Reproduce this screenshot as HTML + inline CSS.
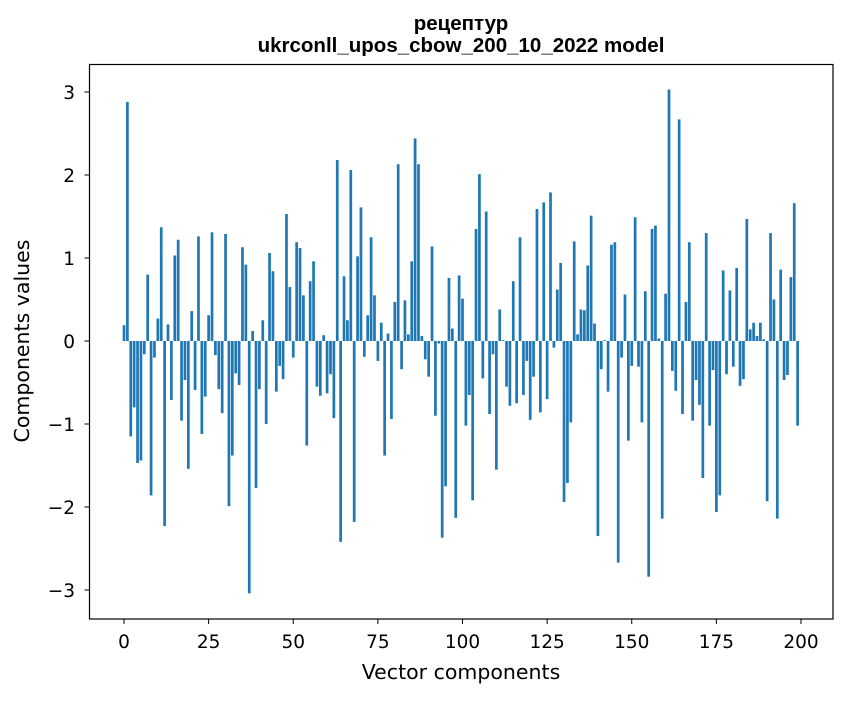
<!DOCTYPE html>
<html><head><meta charset="utf-8"><style>
body{margin:0;background:#fff;}
svg text{font-family:"DejaVu Sans","Liberation Sans",sans-serif;fill:#000;}
</style></head><body>
<svg id="chart" width="847" height="696" xmlns="http://www.w3.org/2000/svg">
<rect width="847" height="696" fill="#fff"/>
<text x="461" y="30" text-anchor="middle" font-size="20.5" font-weight="bold" style="font-family:'Liberation Sans',sans-serif">рецептур</text>
<text x="461" y="52" text-anchor="middle" font-size="20.5" font-weight="bold" style="font-family:'Liberation Sans',sans-serif">ukrconll_upos_cbow_200_10_2022 model</text>
<g id="bars"></g>
<g id="axes"></g>
<text x="461" y="679" text-anchor="middle" font-size="20.5">Vector components</text>
<text transform="translate(29,341) rotate(-90)" text-anchor="middle" font-size="20.5">Components values</text>
</svg>
<script>
const values = [0.19,2.88,-1.15,-0.80,-1.47,-1.44,-0.16,0.80,-1.86,-0.20,
0.27,1.37,-2.23,0.20,-0.71,1.03,1.22,-0.96,-0.47,-1.54,
0.36,-0.59,1.26,-1.12,-0.67,0.31,1.31,-0.17,-0.58,-0.87,
1.29,-1.99,-1.38,-0.39,-0.53,1.13,0.92,-3.04,0.12,-1.77,
-0.58,0.25,-1.00,1.06,0.84,-0.61,-0.30,-0.46,1.53,0.65,
-0.20,1.19,1.12,0.55,-1.26,0.72,0.96,-0.55,-0.66,0.07,
-0.63,-0.40,-0.93,2.18,-2.42,0.78,0.25,2.06,-2.18,1.02,
1.61,-0.19,0.31,1.25,0.55,-0.24,0.22,-1.38,0.09,-0.94,
0.47,2.13,-0.34,0.49,0.08,0.96,2.44,2.13,0.06,-0.22,
-0.43,1.14,-0.90,-0.03,-2.37,-1.75,0.76,0.15,-2.13,0.79,
0.51,-1.02,-0.65,-1.92,1.35,2.01,-0.45,1.56,-0.88,-0.16,
-1.55,0.38,0.01,-0.55,-0.78,0.72,-0.75,1.25,-0.65,-0.24,
-0.95,-0.43,1.59,-0.86,1.67,-0.70,1.79,-0.08,0.62,0.94,
-1.94,-1.71,-0.98,1.20,0.08,0.38,0.37,0.91,1.51,0.21,
-2.35,-0.34,0.01,-0.61,1.16,1.19,-2.67,-0.20,0.56,-1.20,
-0.30,1.49,-0.31,-0.98,0.60,-2.84,1.35,1.39,0.03,-2.14,
0.57,3.03,-0.36,-0.60,2.67,-0.88,0.47,1.19,-0.96,-0.47,
-0.77,-1.65,1.30,-1.02,-0.35,-2.06,-1.86,0.85,-0.40,0.61,
-0.31,0.88,-0.54,-0.46,1.47,0.14,0.22,0.06,0.22,0.02,
-1.93,1.30,0.50,-2.14,0.86,-0.47,-0.41,0.77,1.66,-1.02];
const xTicks = [0,25,50,75,100,125,150,175,200];
const yTicks = [3,2,1,0,-1,-2,-3];
const yTickLabels = ["3","2","1","0","\u22121","\u22122","\u22123"];

const L=89.5,R=833,T=64.5,B=619;
const xScale = v => 124 + v*3.385;
const yScale = v => 341 - v*83;
const NS="http://www.w3.org/2000/svg";
const bars=document.getElementById('bars');
values.forEach((v,i)=>{
  const r=document.createElementNS(NS,'rect');
  
  
  const x0=xScale(i-0.4), x1=xScale(i+0.4);
  const y0=Math.min(yScale(v),yScale(0)), y1=Math.max(yScale(v),yScale(0));
  r.setAttribute('x',x0);r.setAttribute('width',x1-x0);
  r.setAttribute('y',y0);r.setAttribute('height',Math.max(y1-y0,0.3));
  r.setAttribute('fill','#1f77b4');
  bars.appendChild(r);
});
const ax=document.getElementById('axes');
const frame=document.createElementNS(NS,'rect');


frame.setAttribute('x',L);frame.setAttribute('y',T);frame.setAttribute('width',R-L);frame.setAttribute('height',B-T);
frame.setAttribute('fill','none');frame.setAttribute('stroke','#000');frame.setAttribute('stroke-width','1.2');
ax.appendChild(frame);
xTicks.forEach(t=>{
  const x=xScale(t);
  const l=document.createElementNS(NS,'line');
  
  
  l.setAttribute('x1',x);l.setAttribute('x2',x);l.setAttribute('y1',B);l.setAttribute('y2',B+5);l.setAttribute('stroke','#000');
  ax.appendChild(l);
  const tx=document.createElementNS(NS,'text');
  
  
  tx.setAttribute('x',x);tx.setAttribute('y',648);tx.setAttribute('text-anchor','middle');tx.setAttribute('font-size','18.5');
  tx.textContent=t;ax.appendChild(tx);
});
yTicks.forEach((t,k)=>{
  const y=yScale(t);
  const l=document.createElementNS(NS,'line');
  
  
  l.setAttribute('x1',L-5);l.setAttribute('x2',L);l.setAttribute('y1',y);l.setAttribute('y2',y);l.setAttribute('stroke','#000');
  ax.appendChild(l);
  const tx=document.createElementNS(NS,'text');
  
  
  tx.setAttribute('x',75);tx.setAttribute('y',y+7);tx.setAttribute('text-anchor','end');tx.setAttribute('font-size','18.5');
  tx.textContent=yTickLabels[k];ax.appendChild(tx);
});
</script>
</body></html>
